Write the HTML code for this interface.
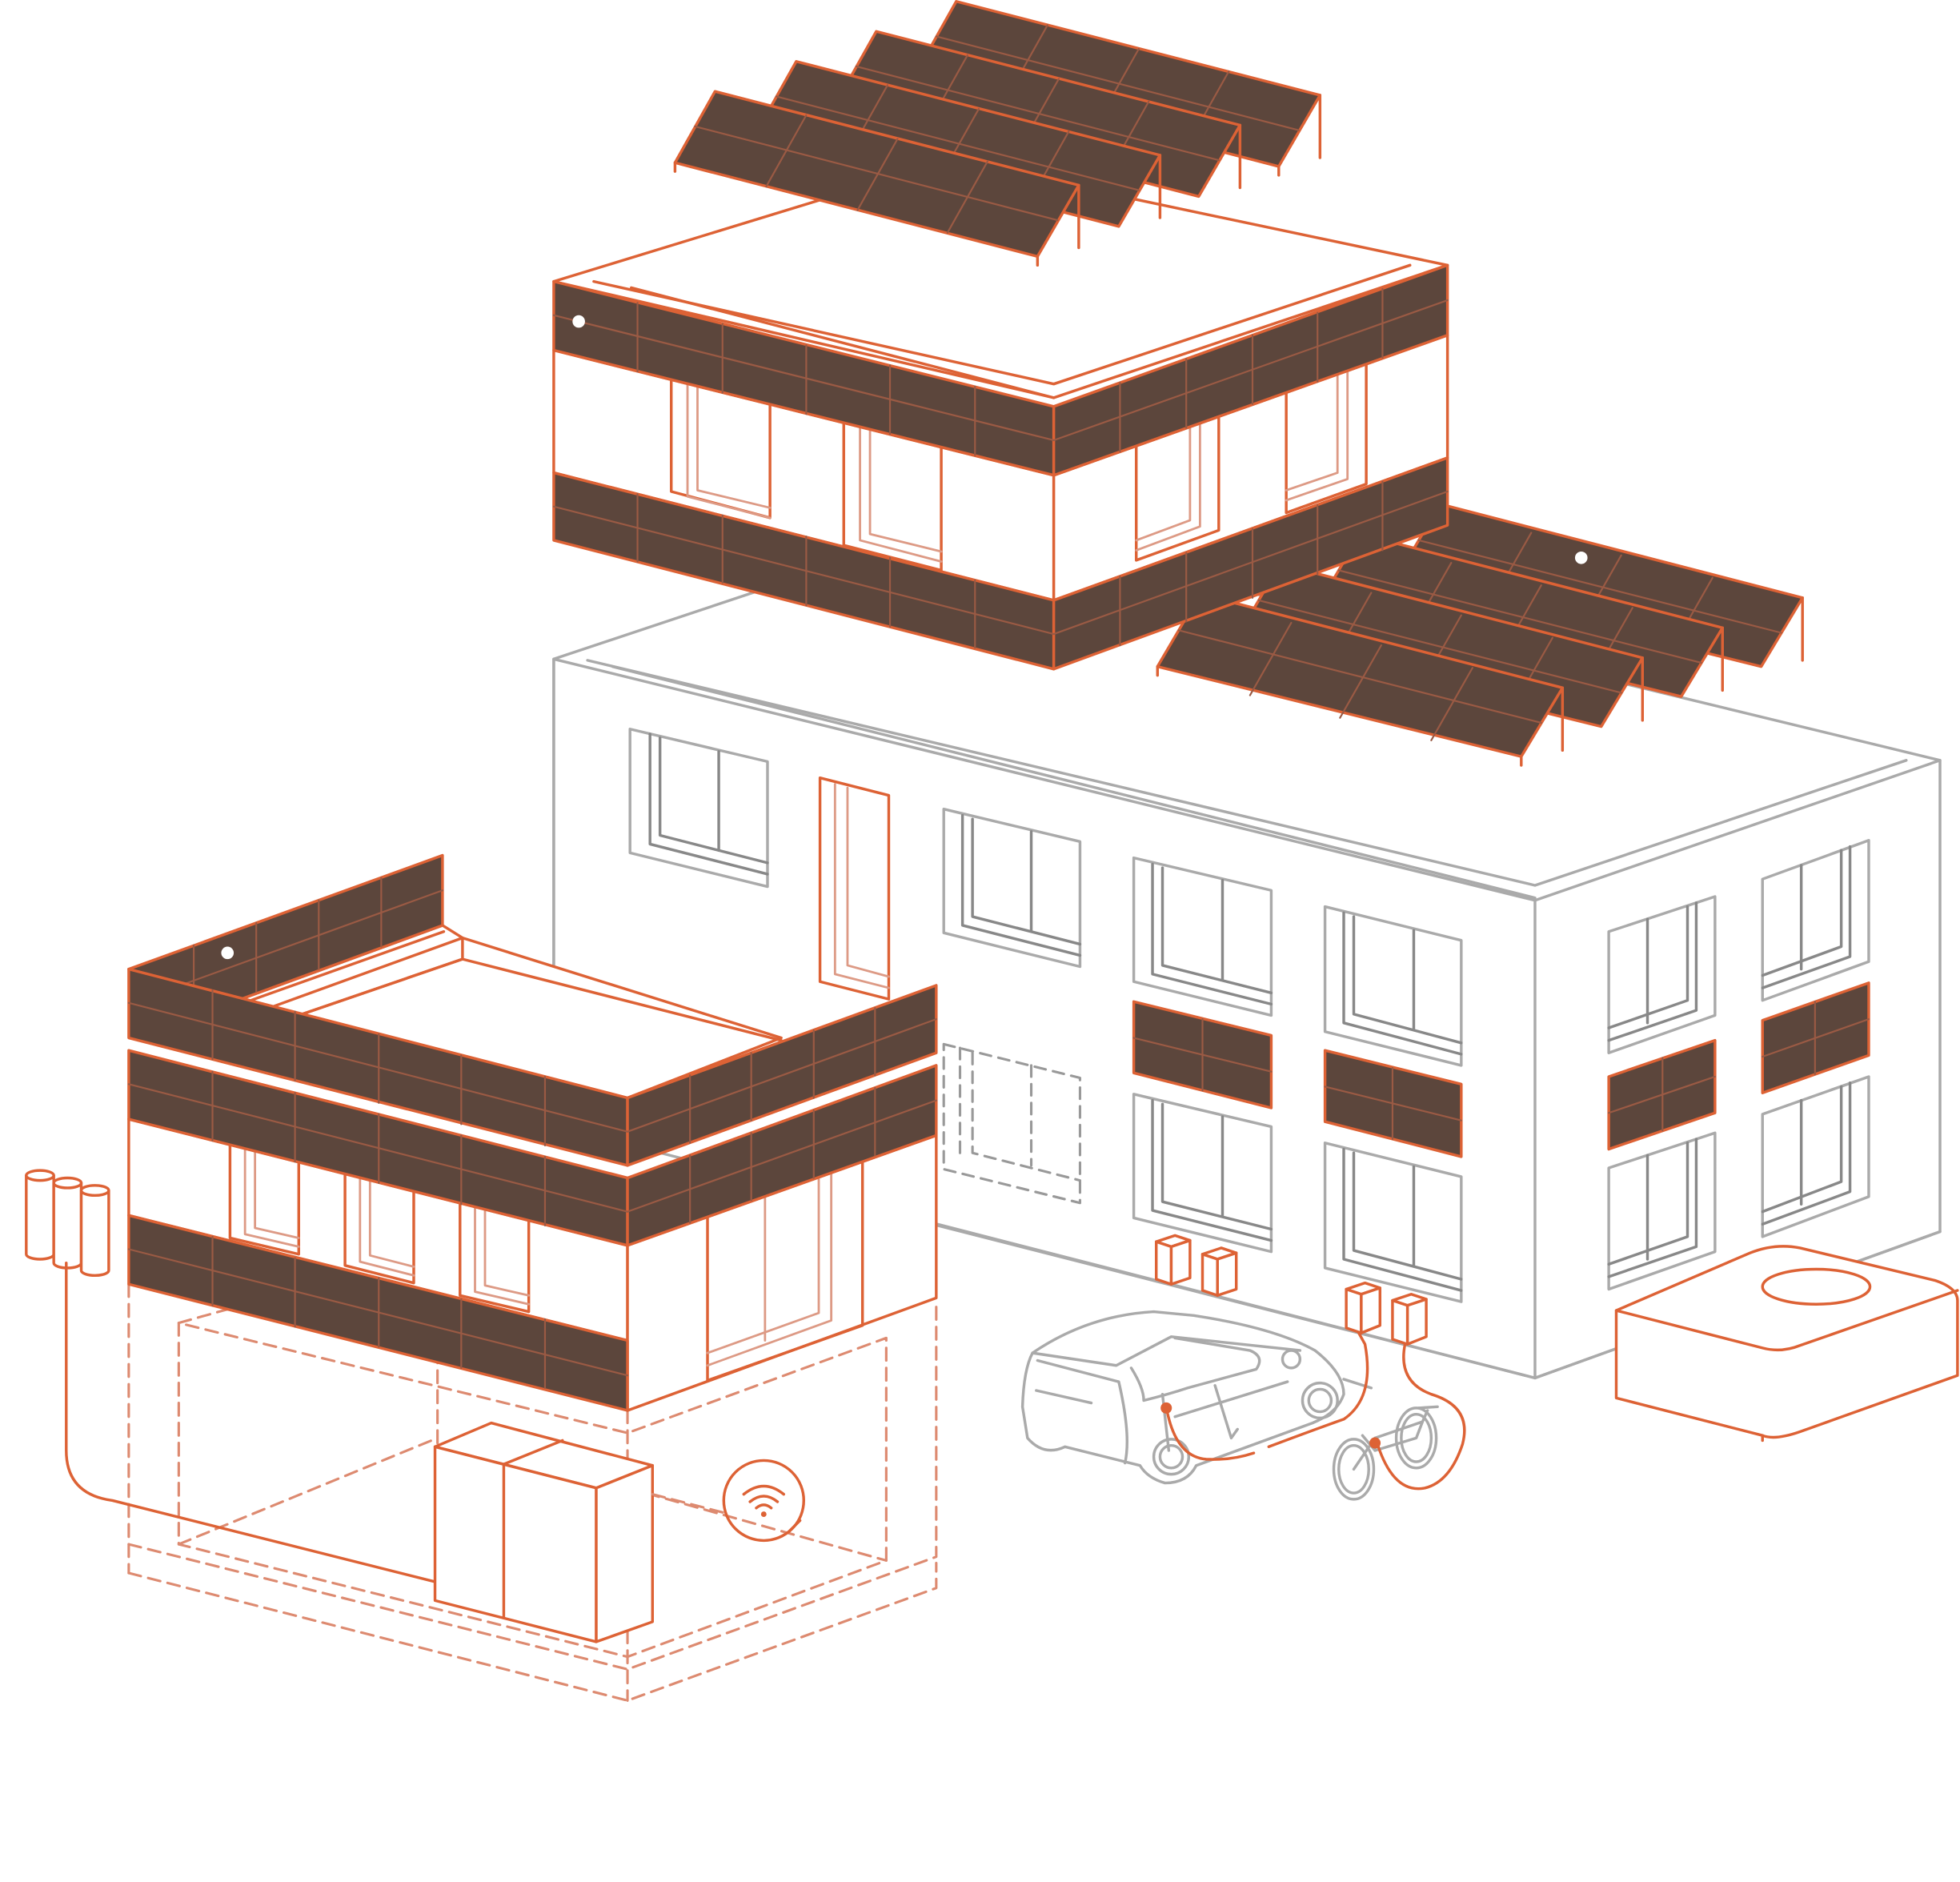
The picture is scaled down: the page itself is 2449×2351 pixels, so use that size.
<!DOCTYPE html>
<html><head><style>html,body{margin:0;padding:0;background:#fff}svg{display:block}</style></head><body>
<svg width="2449" height="2351" viewBox="0 0 1568 1505" xmlns="http://www.w3.org/2000/svg" fill="none" stroke-linejoin="round" stroke-linecap="round">
<defs>
<style>
.o{stroke:#dd6235;stroke-width:2.2;fill:none}
.of{stroke:#dd6235;stroke-width:2.2;fill:#fff}
.b{stroke:#dd6235;stroke-width:2.2;fill:#5c463c}
.bl{stroke:#9a5a44;stroke-width:1.4}
.g{stroke:#aaa;stroke-width:2.2;fill:none}
.gf{stroke:#aaa;stroke-width:2.2;fill:#fff}
.gd{stroke:#888;stroke-width:2.2;fill:none}
.d{stroke:#dd8a70;stroke-width:2;stroke-dasharray:10 6;fill:none}
.o2{stroke:#dd9a85;stroke-width:1.8;fill:none}
</style>
</defs>

<polygon class="gf" points="443,527 770,418 1552,608 1552,985 1228,1102 443,900"/>
<polyline class="g" points="443,527 1228,720 1552,608"/>
<polyline class="g" points="470,528 1228,708 1525,608"/>
<polyline class="g" points="490,533 1228,718"/>
<line class="g" x1="1228" y1="720" x2="1228" y2="1102"/>
<line class="g" x1="443" y1="527" x2="443" y2="800"/>
<line class="g" x1="750" y1="980" x2="1228" y2="1102"/>
<line class="g" x1="1228" y1="1102" x2="1552" y2="985"/>

<g class="g">
<polygon points="504,583 614,609 614,709 504,682"/><polyline class="gd" points="520,587 520,675 614,699"/><polyline class="gd" points="528,590 528,668 614,690"/><line class="gd" x1="575" y1="601" x2="575" y2="680"/>
<polygon points="755,647 864,673 864,773 755,746"/><polyline class="gd" points="770,652 770,740 864,764"/><polyline class="gd" points="778,655 778,733 864,755"/><line class="gd" x1="825" y1="665" x2="825" y2="744"/>
<polygon points="907,686 1017,712 1017,812 907,785"/><polyline class="gd" points="922,691 922,779 1017,803"/><polyline class="gd" points="930,694 930,772 1017,794"/><line class="gd" x1="978" y1="704" x2="978" y2="783"/>
<polygon points="1060,725 1169,752 1169,852 1060,825"/><polyline class="gd" points="1075,730 1075,818 1169,843"/><polyline class="gd" points="1083,733 1083,811 1169,834"/><line class="gd" x1="1131" y1="744" x2="1131" y2="823"/>
<polygon points="907,875 1017,901 1017,1001 907,974"/><polyline class="gd" points="922,880 922,968 1017,992"/><polyline class="gd" points="930,883 930,961 1017,983"/><line class="gd" x1="978" y1="893" x2="978" y2="972"/>
<polygon points="1060,914 1169,941 1169,1041 1060,1014"/><polyline class="gd" points="1075,919 1075,1007 1169,1032"/><polyline class="gd" points="1083,922 1083,1000 1169,1023"/><line class="gd" x1="1131" y1="933" x2="1131" y2="1012"/>
<polygon points="1287,745 1372,717 1372,812 1287,842"/><polyline class="gd" points="1287,832 1357,808 1357,722"/><polyline class="gd" points="1287,822 1350,800 1350,725"/><line class="gd" x1="1318" y1="735" x2="1318" y2="818"/>
<polygon points="1410,703 1495,672 1495,769 1410,800"/><polyline class="gd" points="1410,790 1480,765 1480,677"/><polyline class="gd" points="1410,780 1473,757 1473,680"/><line class="gd" x1="1441" y1="692" x2="1441" y2="775"/>
<polygon points="1287,934 1372,906 1372,1001 1287,1031"/><polyline class="gd" points="1287,1021 1357,997 1357,911"/><polyline class="gd" points="1287,1011 1350,989 1350,914"/><line class="gd" x1="1318" y1="924" x2="1318" y2="1007"/>
<polygon points="1410,891 1495,861 1495,957 1410,989"/><polyline class="gd" points="1410,979 1480,953 1480,866"/><polyline class="gd" points="1410,969 1473,945 1473,869"/><line class="gd" x1="1441" y1="880" x2="1441" y2="963"/>
</g>
<g stroke="#999" stroke-width="2" stroke-dasharray="9 6" fill="none">
<polygon points="755,835 864,862 864,962 755,935"/><polyline points="778,842 778,922 864,944"/><line x1="825" y1="852" x2="825" y2="932"/><line x1="768" y1="838" x2="768" y2="928"/>
</g>
<polygon class="of" points="656,622 711,636 711,799 656,785"/>
<polyline class="o2" points="668,627 668,779 711,790"/><polyline class="o2" points="678,630 678,772 711,781"/>

<g>
<polygon class="b" points="907,801 1017,828 1017,886 907,858"/><line class="bl" x1="907" y1="830" x2="1017" y2="857"/><line class="bl" x1="962" y1="815" x2="962" y2="872"/>
<polygon class="b" points="1060,840 1169,867 1169,925 1060,897"/><line class="bl" x1="1060" y1="869" x2="1169" y2="896"/><line class="bl" x1="1114" y1="854" x2="1114" y2="911"/>
<polygon class="b" points="1287,861 1372,832 1372,890 1287,919"/><line class="bl" x1="1287" y1="890" x2="1372" y2="861"/><line class="bl" x1="1330" y1="846" x2="1330" y2="904"/>
<polygon class="b" points="1410,816 1495,786 1495,844 1410,874"/><line class="bl" x1="1410" y1="845" x2="1495" y2="815"/><line class="bl" x1="1452" y1="801" x2="1452" y2="859"/>
</g>

<g>
<g transform="translate(192,-72)"><polygon class="b" points="926,533 960,475 1250,550 1217,605"/><line class="bl" x1="943" y1="504" x2="1233" y2="578"/><line class="bl" x1="1033" y1="498" x2="1000" y2="556"/><line class="bl" x1="1105" y1="516" x2="1072" y2="574"/><line class="bl" x1="1178" y1="534" x2="1145" y2="592"/><line class="o" x1="1250" y1="550" x2="1250" y2="600"/><line class="o" x1="926" y1="533" x2="926" y2="543"/></g>
<g transform="translate(128,-48)"><polygon class="b" points="926,533 960,475 1250,550 1217,605"/><line class="bl" x1="943" y1="504" x2="1233" y2="578"/><line class="bl" x1="1033" y1="498" x2="1000" y2="556"/><line class="bl" x1="1105" y1="516" x2="1072" y2="574"/><line class="bl" x1="1178" y1="534" x2="1145" y2="592"/><line class="o" x1="1250" y1="550" x2="1250" y2="600"/></g>
<g transform="translate(64,-24)"><polygon class="b" points="926,533 960,475 1250,550 1217,605"/><line class="bl" x1="943" y1="504" x2="1233" y2="578"/><line class="bl" x1="1033" y1="498" x2="1000" y2="556"/><line class="bl" x1="1105" y1="516" x2="1072" y2="574"/><line class="bl" x1="1178" y1="534" x2="1145" y2="592"/><line class="o" x1="1250" y1="550" x2="1250" y2="600"/></g>
<g><polygon class="b" points="926,533 960,475 1250,550 1217,605"/><line class="bl" x1="943" y1="504" x2="1233" y2="578"/><line class="bl" x1="1033" y1="498" x2="1000" y2="556"/><line class="bl" x1="1105" y1="516" x2="1072" y2="574"/><line class="bl" x1="1178" y1="534" x2="1145" y2="592"/><line class="o" x1="1250" y1="550" x2="1250" y2="600"/><line class="o" x1="926" y1="533" x2="926" y2="540"/><line class="o" x1="1217" y1="605" x2="1217" y2="612"/></g>
<circle cx="1265" cy="446" r="5" fill="#fff"/>
</g>

<polygon class="of" points="443,225 760,128 1158,212 843,318"/>
<polyline class="o" points="475,225 843,307 1128,212"/>
<polyline class="o" points="505,230 843,318"/>
<polygon class="of" points="443,280 843,380 843,480 443,378"/>
<polygon class="of" points="843,380 1158,268 1158,366 843,480"/>
<g>
<polyline class="o" points="537,302 537,393 616,414 616,322"/><polyline class="o2" points="550,305 550,397 616,414"/><polyline class="o2" points="558,308 558,392 616,406"/>
<polyline class="o" points="675,337 675,436 753,456 753,357"/><polyline class="o2" points="688,340 688,432 753,449"/><polyline class="o2" points="696,343 696,427 753,441"/>
<polyline class="o" points="909,357 909,448 975,424 975,334"/><polyline class="o2" points="909,440 960,421 960,339"/><polyline class="o2" points="909,432 952,416 952,342"/>
<polyline class="o" points="1029,314 1029,410 1093,387 1093,291"/><polyline class="o2" points="1029,400 1078,383 1078,296"/><polyline class="o2" points="1029,392 1070,378 1070,299"/>
</g>
<polygon class="b" points="443,225 843,325 843,380 443,280"/>
<polygon class="b" points="843,325 1158,212 1158,268 843,380"/>
<polygon class="b" points="443,378 843,480 843,535 443,432"/>
<polygon class="b" points="843,480 1158,366 1158,420 843,535"/>
<g class="bl">
<line x1="443" y1="252" x2="843" y2="352"/><line x1="843" y1="352" x2="1158" y2="240"/>
<line x1="443" y1="405" x2="843" y2="507"/><line x1="843" y1="507" x2="1158" y2="393"/>
<line x1="510" y1="242" x2="510" y2="297"/><line x1="578" y1="259" x2="578" y2="314"/><line x1="645" y1="276" x2="645" y2="331"/><line x1="712" y1="292" x2="712" y2="347"/><line x1="780" y1="309" x2="780" y2="364"/>
<line x1="510" y1="395" x2="510" y2="449"/><line x1="578" y1="412" x2="578" y2="466"/><line x1="645" y1="429" x2="645" y2="484"/><line x1="712" y1="446" x2="712" y2="501"/><line x1="780" y1="464" x2="780" y2="518"/>
<line x1="896" y1="306" x2="896" y2="361"/><line x1="949" y1="287" x2="949" y2="342"/><line x1="1002" y1="268" x2="1002" y2="323"/><line x1="1054" y1="250" x2="1054" y2="305"/><line x1="1106" y1="231" x2="1106" y2="286"/>
<line x1="896" y1="461" x2="896" y2="516"/><line x1="949" y1="442" x2="949" y2="497"/><line x1="1002" y1="423" x2="1002" y2="478"/><line x1="1054" y1="404" x2="1054" y2="459"/><line x1="1106" y1="385" x2="1106" y2="440"/>
</g>
<circle cx="463" cy="257" r="5" fill="#fff"/>

<g>
<g transform="translate(193,-72)"><polygon class="b" points="540,130 572,73 863,148 830,205"/><line class="bl" x1="556" y1="101" x2="846" y2="176"/><line class="bl" x1="645" y1="92" x2="613" y2="149"/><line class="bl" x1="718" y1="111" x2="686" y2="168"/><line class="bl" x1="790" y1="129" x2="758" y2="186"/><line class="o" x1="863" y1="148" x2="863" y2="198"/><line class="o" x1="830" y1="205" x2="830" y2="212"/></g>
<g transform="translate(129,-48)"><polygon class="b" points="540,130 572,73 863,148 830,205"/><line class="bl" x1="556" y1="101" x2="846" y2="176"/><line class="bl" x1="645" y1="92" x2="613" y2="149"/><line class="bl" x1="718" y1="111" x2="686" y2="168"/><line class="bl" x1="790" y1="129" x2="758" y2="186"/><line class="o" x1="863" y1="148" x2="863" y2="198"/></g>
<g transform="translate(65,-24)"><polygon class="b" points="540,130 572,73 863,148 830,205"/><line class="bl" x1="556" y1="101" x2="846" y2="176"/><line class="bl" x1="645" y1="92" x2="613" y2="149"/><line class="bl" x1="718" y1="111" x2="686" y2="168"/><line class="bl" x1="790" y1="129" x2="758" y2="186"/><line class="o" x1="863" y1="148" x2="863" y2="198"/></g>
<g><polygon class="b" points="540,130 572,73 863,148 830,205"/><line class="bl" x1="556" y1="101" x2="846" y2="176"/><line class="bl" x1="645" y1="92" x2="613" y2="149"/><line class="bl" x1="718" y1="111" x2="686" y2="168"/><line class="bl" x1="790" y1="129" x2="758" y2="186"/><line class="o" x1="863" y1="148" x2="863" y2="198"/><line class="o" x1="540" y1="130" x2="540" y2="137"/><line class="o" x1="830" y1="205" x2="830" y2="212"/></g>
</g>

<g class="d">
<polyline points="103,1027 103,1235 502,1335 749,1245 749,1040"/>
<polyline points="103,1258 502,1360 749,1270 749,1250"/>
<line x1="103" y1="1235" x2="103" y2="1258"/><line x1="502" y1="1128" x2="502" y2="1360"/>
<polyline points="143,1058 350,1000"/>
<polyline points="143,1058 143,1235 502,1325 709,1248 709,1070 502,1146 143,1058"/>
<line x1="350" y1="1000" x2="350" y2="1160"/>
<line x1="143" y1="1235" x2="350" y2="1150"/>
<line x1="502" y1="1190" x2="709" y2="1248"/>
</g>

<polygon class="of" points="190,800 354,740 370,750 625,830 502,878"/>
<polyline class="o" points="195,802 355,745"/><polyline class="o" points="210,808 370,750 370,767 230,815"/>
<polyline class="o" points="230,815 370,767 625,832"/>
<polygon class="b" points="103,775 354,684 354,740 190,800"/>
<g class="bl"><line x1="103" y1="803" x2="354" y2="712"/><line x1="155" y1="756" x2="155" y2="811"/><line x1="205" y1="738" x2="205" y2="793"/><line x1="255" y1="720" x2="255" y2="775"/><line x1="305" y1="702" x2="305" y2="757"/></g>
<circle cx="182" cy="762" r="5" fill="#fff"/>
<polygon class="of" points="103,895 502,996 502,1072 103,972"/>
<polygon class="of" points="502,996 749,908 749,1038 502,1128"/>
<g>
<polyline class="o" points="184,916 184,990 239,1003 239,930"/><polyline class="o2" points="196,919 196,987 239,997"/><polyline class="o2" points="204,921 204,982 239,990"/>
<polyline class="o" points="276,939 276,1012 331,1026 331,953"/><polyline class="o2" points="288,942 288,1009 331,1020"/><polyline class="o2" points="296,944 296,1004 331,1013"/>
<polyline class="o" points="368,962 368,1036 423,1049 423,976"/><polyline class="o2" points="380,965 380,1033 423,1043"/><polyline class="o2" points="388,967 388,1028 423,1036"/>
<polyline class="o" points="566,973 566,1104 690,1060 690,930"/><polyline class="o2" points="566,1092 665,1056 665,939"/><polyline class="o2" points="566,1082 655,1050 655,943"/><line class="o2" x1="612" y1="957" x2="612" y2="1072"/>
</g>
<polygon class="b" points="103,775 502,878 502,932 103,830"/>
<polygon class="b" points="502,878 749,788 749,842 502,932"/>
<polygon class="b" points="103,840 502,942 502,996 103,895"/>
<polygon class="b" points="502,942 749,852 749,908 502,996"/>
<polygon class="b" points="103,972 502,1072 502,1128 103,1027"/>
<g class="bl">
<line x1="103" y1="802" x2="502" y2="905"/><line x1="103" y1="867" x2="502" y2="969"/><line x1="103" y1="999" x2="502" y2="1100"/>
<line x1="502" y1="905" x2="749" y2="815"/><line x1="502" y1="969" x2="749" y2="880"/>
<line x1="170" y1="792" x2="170" y2="847"/><line x1="236" y1="809" x2="236" y2="864"/><line x1="303" y1="827" x2="303" y2="882"/><line x1="369" y1="844" x2="369" y2="899"/><line x1="436" y1="861" x2="436" y2="916"/>
<line x1="170" y1="857" x2="170" y2="912"/><line x1="236" y1="874" x2="236" y2="929"/><line x1="303" y1="891" x2="303" y2="946"/><line x1="369" y1="908" x2="369" y2="963"/><line x1="436" y1="925" x2="436" y2="980"/>
<line x1="170" y1="989" x2="170" y2="1044"/><line x1="236" y1="1006" x2="236" y2="1061"/><line x1="303" y1="1022" x2="303" y2="1077"/><line x1="369" y1="1039" x2="369" y2="1094"/><line x1="436" y1="1055" x2="436" y2="1110"/>
<line x1="552" y1="860" x2="552" y2="914"/><line x1="601" y1="842" x2="601" y2="896"/><line x1="651" y1="824" x2="651" y2="878"/><line x1="700" y1="806" x2="700" y2="860"/>
<line x1="552" y1="924" x2="552" y2="978"/><line x1="601" y1="906" x2="601" y2="960"/><line x1="651" y1="888" x2="651" y2="942"/><line x1="700" y1="870" x2="700" y2="924"/>
</g>

<g class="of">
<path d="M21,940 L21,1003 A11,4 0 0 0 43,1003 L43,940"/><ellipse cx="32" cy="940" rx="11" ry="4"/>
<path d="M43,946 L43,1010 A11,4 0 0 0 65,1010 L65,946"/><ellipse cx="54" cy="946" rx="11" ry="4"/>
<path d="M65,952 L65,1016 A11,4 0 0 0 87,1016 L87,952"/><ellipse cx="76" cy="952" rx="11" ry="4"/>
</g>
<path class="o" d="M53,1010 L53,1160 Q53,1195 90,1200 L348,1265"/>

<polygon class="of" points="348,1157 393,1138 522,1172 477,1190"/>
<polygon class="of" points="348,1157 477,1190 477,1313 348,1280"/>
<polygon class="of" points="477,1190 522,1172 522,1297 477,1313"/>
<line class="o" x1="403" y1="1171" x2="403" y2="1294"/><line class="o" x1="403" y1="1171" x2="450" y2="1152"/>
<line class="d" x1="522" y1="1195" x2="580" y2="1210"/>

<circle class="o" cx="611" cy="1200" r="32"/>
<g class="o" stroke-width="2">
<path d="M595,1195 Q611,1182 627,1195"/><path d="M600,1201 Q611,1192 622,1201"/><path d="M605,1206 Q611,1201 617,1206"/>
</g>
<circle cx="611" cy="1211" r="2.2" fill="#dd6235"/>
<path class="o" d="M631,1225 L640,1216"/>

<g class="of">
<polygon points="925,993 940,988 952,992 937,997"/><polygon points="925,993 937,997 937,1027 925,1023"/><polygon points="937,997 952,992 952,1022 937,1027"/>
<polygon points="962,1003 977,998 989,1002 974,1007"/><polygon points="962,1003 974,1007 974,1036 962,1032"/><polygon points="974,1007 989,1002 989,1031 974,1036"/>
<polygon points="1077,1031 1092,1026 1104,1030 1089,1035"/><polygon points="1077,1031 1089,1035 1089,1066 1077,1062"/><polygon points="1089,1035 1104,1030 1104,1060 1089,1066"/>
<polygon points="1114,1040 1129,1035 1141,1039 1126,1044"/><polygon points="1114,1040 1126,1044 1126,1075 1114,1071"/><polygon points="1126,1044 1141,1039 1141,1069 1126,1075"/>
</g>

<g class="g">
<path d="M826,1082 Q870,1052 923,1049 L955,1052 Q1020,1062 1052,1080 Q1075,1098 1075,1115 Q1070,1130 1050,1138 L957,1172 Q950,1186 932,1186 Q918,1182 912,1172 L852,1157 Q835,1165 822,1150 L818,1125 Q819,1095 826,1082 Z"/>
<path d="M826,1082 L893,1092 L937,1069 L1040,1080"/>
<path d="M830,1088 L895,1105 Q905,1148 900,1170"/>
<path d="M829,1112 L873,1122"/>
<path d="M905,1094 Q915,1110 915,1120 Q935,1115 950,1110 L1005,1095 Q1012,1085 1000,1080 L940,1070"/>
<path d="M930,1115 L935,1160 M972,1108 L985,1150 L990,1143 M940,1133 L1030,1105"/>
<circle cx="937" cy="1165" r="14"/><circle cx="937" cy="1165" r="9"/>
<circle cx="1056" cy="1120" r="14"/><circle cx="1056" cy="1120" r="9"/>
<circle cx="1033" cy="1087" r="7"/>
</g>
<g class="g">
<ellipse cx="1083" cy="1175" rx="16" ry="24"/><ellipse cx="1083" cy="1175" rx="12" ry="19"/>
<ellipse cx="1133" cy="1150" rx="16" ry="24"/><ellipse cx="1133" cy="1150" rx="12" ry="19"/>
<path d="M1083,1175 L1100,1150 L1138,1137 L1133,1150 L1100,1160 L1090,1148 M1100,1150 L1100,1160 M1138,1137 L1142,1128 M1135,1126 L1150,1125 M1075,1103 L1097,1110"/>
</g>
<path class="o" d="M933,1125 Q940,1165 965,1167 Q985,1168 1003,1162"/>
<path class="o" d="M1015,1157 Q1055,1142 1075,1135 Q1100,1118 1092,1075 L1087,1066"/>
<path class="o" d="M1124,1075 Q1118,1105 1145,1115 Q1178,1125 1170,1155 Q1160,1185 1140,1190 Q1115,1195 1102,1155"/>
<circle cx="933" cy="1126" r="4.5" fill="#dd6235"/>
<circle cx="1100" cy="1154" r="4.5" fill="#dd6235"/>

<path class="of" d="M1293,1048 L1400,1002 Q1420,994 1440,998 L1548,1024 Q1566,1030 1566,1040 L1566,1100 L1440,1145 Q1420,1152 1410,1148 L1293,1118 Z"/>
<path class="o" d="M1293,1048 L1410,1078 Q1425,1082 1440,1076 L1566,1032"/>
<line class="o" x1="1410" y1="1148" x2="1410" y2="1152"/>
<ellipse class="o" cx="1453" cy="1029" rx="43" ry="14"/>
</svg>
</body></html>
